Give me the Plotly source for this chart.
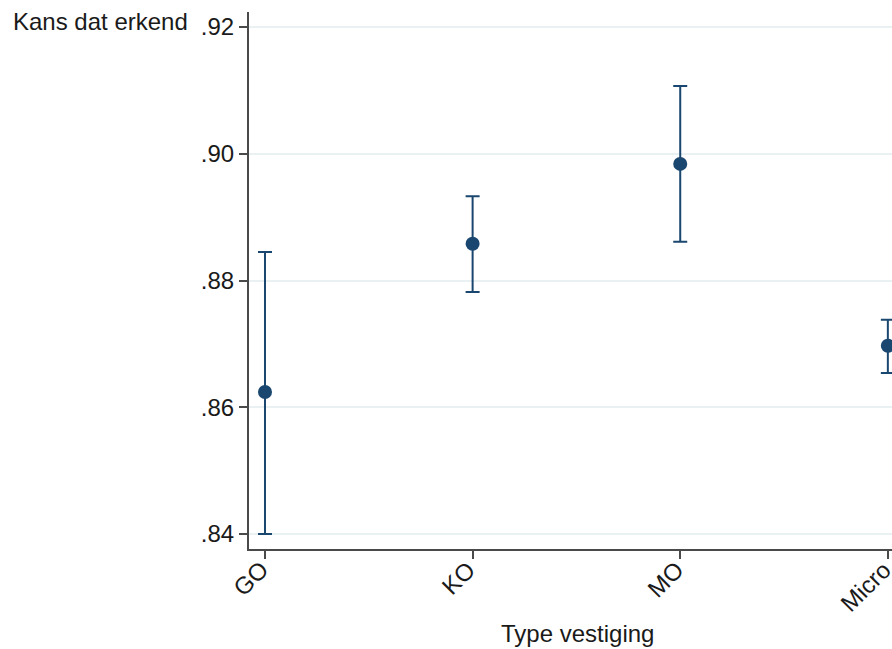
import plotly.graph_objects as go

categories = ["GO", "KO", "MO", "Micro"]
estimates = [0.8624, 0.8858, 0.8984, 0.8697]
ci_upper = [0.8845, 0.8933, 0.9107, 0.8738]
ci_lower = [0.8400, 0.8782, 0.8861, 0.8654]
y_ticks = [0.84, 0.86, 0.88, 0.90, 0.92]
y_tick_labels = [".84", ".86", ".88", ".90", ".92"]

navy = "#1a476f"
axis_col = "#4a4a4a"
grid_col = "#eaf1f3"
text_col = "#1a1a1a"
font_family = "Liberation Sans, Arial, sans-serif"

xpos = list(range(len(categories)))
fig = go.Figure()
fig.add_trace(go.Scatter(
    x=xpos, y=estimates, mode="markers",
    marker=dict(color=navy, size=14),
    error_y=dict(type="data", symmetric=False,
                 array=[u - e for u, e in zip(ci_upper, estimates)],
                 arrayminus=[e - l for e, l in zip(estimates, ci_lower)],
                 color=navy, thickness=2, width=7),
    cliponaxis=False,
    showlegend=False,
))

plot_h = 537
annotations = [
    dict(text="Kans dat erkend", xref="paper", yref="paper",
         x=-249/643 + 11/643, y=1 + (12 - 22) / plot_h,
         xanchor="left", yanchor="middle", showarrow=False,
         font=dict(size=24, color=text_col)),
    dict(text="Type vestiging", xref="paper", yref="paper",
         x=(577 - 249) / 643, y=-(633 - 549) / plot_h,
         xanchor="center", yanchor="middle", showarrow=False,
         font=dict(size=24, color=text_col)),
]
for xp, lab in zip(xpos, categories):
    annotations.append(dict(
        text=lab, xref="x", yref="paper", x=xp, y=-(553 - 549) / plot_h,
        xanchor="right", yanchor="top", xshift=11, textangle=-45,
        showarrow=False, font=dict(size=24, color=text_col)))

fig.update_layout(
    width=892, height=649,
    margin=dict(l=249, r=0, t=12, b=100, autoexpand=False),
    paper_bgcolor="white", plot_bgcolor="white",
    font=dict(family=font_family, size=24, color=text_col),
    xaxis=dict(
        range=[-0.077, 3.02],
        tickvals=xpos, showticklabels=False, automargin=False,
        showgrid=False, zeroline=False,
        showline=True, linecolor=axis_col, linewidth=2,
        ticks="outside", ticklen=8, tickwidth=2, tickcolor=axis_col,
    ),
    yaxis=dict(
        range=[0.83763, 0.92237],
        tickvals=y_ticks, ticktext=y_tick_labels, automargin=False,
        showgrid=True, gridcolor=grid_col, gridwidth=2,
        zeroline=False,
        showline=True, linecolor=axis_col, linewidth=2,
        ticks="outside", ticklen=8, tickwidth=2, tickcolor=axis_col,
        tickfont=dict(size=24, color=text_col),
    ),
    annotations=annotations,
)

fig.write_html("out.html")
